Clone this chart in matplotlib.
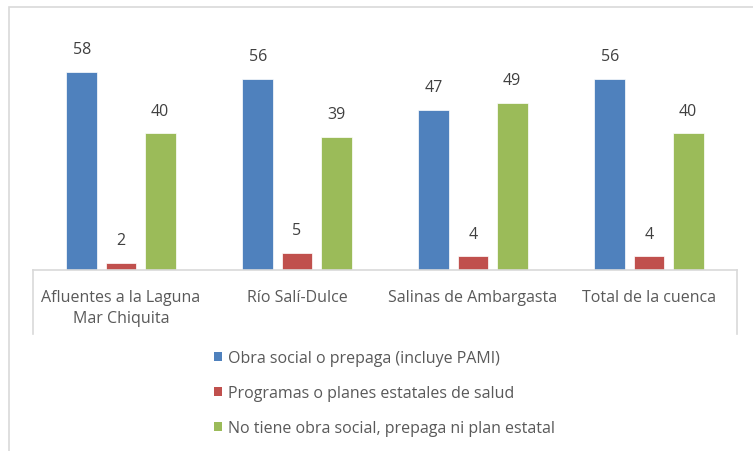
import matplotlib
matplotlib.use("Agg")
import matplotlib.pyplot as plt
import numpy as np
from matplotlib.lines import Line2D
from matplotlib.patches import Rectangle, Patch

categories = ["Afluentes a la Laguna\nMar Chiquita", "Río Salí-Dulce", "Salinas de Ambargasta", "Total de la cuenca"]
series_names = ["Obra social o prepaga (incluye PAMI)",
                "Programas o planes estatales de salud",
                "No tiene obra social, prepaga ni plan estatal"]
obra_social = [58, 56, 47, 56]
programas = [2, 5, 4, 4]
no_tiene = [40, 39, 49, 40]
colors = ["#4F81BD", "#C0504D", "#9BBB59"]

plt.rcParams['font.family'] = ['Open Sans', 'DejaVu Sans']

W, H = 753, 452
fig = plt.figure(figsize=(W / 100, H / 100), dpi=100)

# outer chart frame
fig.patches.append(Rectangle((9 / W, -0.05), 1.0, 1 - 8 / H + 0.05, transform=fig.transFigure,
                             fill=False, edgecolor="#d9d9d9", linewidth=1.2))

ax_left, ax_right = 33 / W, 737 / W
base_y = 1 - 271 / H
top_px = 32
ax = fig.add_axes([ax_left, base_y, ax_right - ax_left, (271 - top_px) / H])

x = np.arange(len(categories))
bw = 0.176
step = 0.222
data = [obra_social, programas, no_tiene]
for i, (vals, c) in enumerate(zip(data, colors)):
    pos = x + (i - 1) * step
    ax.bar(pos, vals, width=bw, color=c, edgecolor="white", linewidth=0.5)
    for xp, v in zip(pos, vals):
        ax.text(xp, v + 4.3, str(v), ha="center", va="bottom", fontsize=11.5, color="#404040")

ax.set_xlim(-0.5, len(categories) - 0.5)
ax.set_ylim(0, 70)
for s in ["top", "left", "right"]:
    ax.spines[s].set_visible(False)
ax.spines["bottom"].set_color("#d9d9d9")
ax.spines["bottom"].set_linewidth(1.2)
ax.set_yticks([])
ax.set_xticks(x)
ax.set_xticklabels(categories, fontsize=11.5, color="#595959", linespacing=1.4)
ax.tick_params(axis="x", length=0, pad=14)

# category end separators
for xf in [ax_left, ax_right]:
    fig.add_artist(Line2D([xf, xf], [base_y, 1 - 335 / H], transform=fig.transFigure,
                          color="#d9d9d9", linewidth=1.2))

handles = [Patch(facecolor=c, edgecolor="none") for c in colors]
leg = fig.legend(handles, series_names, loc="upper left", bbox_to_anchor=(206 / W, 1 - 343 / H),
                 frameon=False, fontsize=11.5, labelspacing=1.2, handlelength=0.5,
                 handleheight=0.5, handletextpad=0.35, borderpad=0)
for t in leg.get_texts():
    t.set_color("#595959")

fig.savefig("out.png", dpi=100, facecolor="white")
